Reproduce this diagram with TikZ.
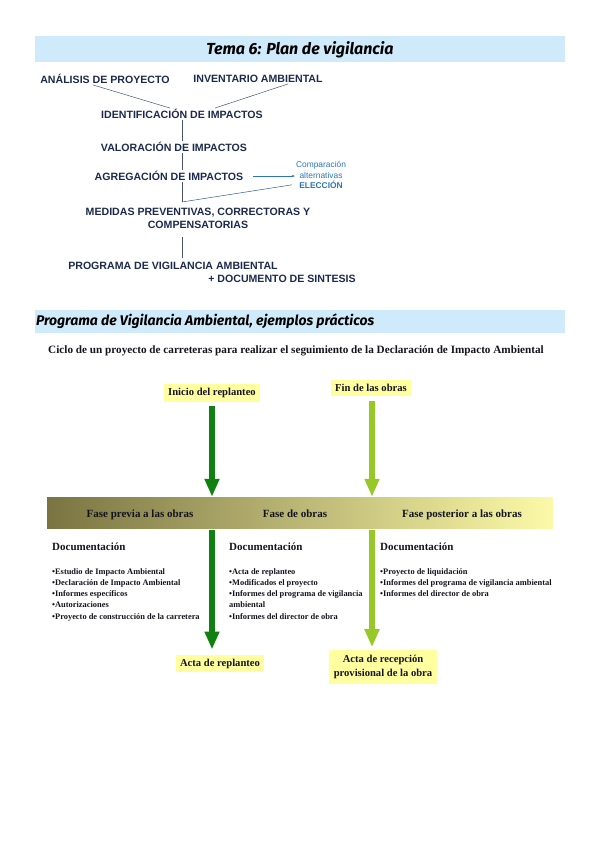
\documentclass[tikz,border=0pt]{standalone}
\usepackage{fontspec}
\setmainfont{Liberation Serif}
\newfontfamily\arialf{Liberation Sans}
\newfontfamily\titlef{Fira Sans}
\usetikzlibrary{arrows.meta,positioning}
\definecolor{hd}{RGB}{206,234,251}
\definecolor{nvy}{RGB}{28,42,78}
\definecolor{bl}{RGB}{46,117,182}
\definecolor{yl}{RGB}{255,255,160}
\definecolor{gd}{RGB}{16,128,16}
\definecolor{gl}{RGB}{150,200,40}
\definecolor{ol}{RGB}{122,116,66}
\definecolor{om}{RGB}{204,200,124}
\definecolor{oy}{RGB}{252,250,168}
\definecolor{tx}{RGB}{20,20,30}

\begin{document}
\begin{tikzpicture}[x=1pt,y=-1pt,
    hdr/.style={rectangle,fill=hd,minimum width=530pt,minimum height=26pt,inner sep=0pt},
    ttl/.style={font=\titlef\fontsize{16}{18}\selectfont\bfseries\itshape,text=black},
    topt/.style={font=\arialf\fontsize{10.6}{13}\selectfont\bfseries,text=nvy,inner sep=1pt,align=center},
    smallt/.style={font=\arialf\fontsize{8.4}{10.5}\selectfont,text=bl,align=center,inner sep=1pt},
    flw/.style={line width=0.5pt,draw=nvy!80},
    ybox/.style={rectangle,fill=yl,font=\fontsize{10.6}{13.5}\selectfont\bfseries,text=tx,inner sep=4pt,align=center},
    fase/.style={font=\fontsize{11}{13}\selectfont\bfseries,text=tx,anchor=base},
    doch/.style={font=\fontsize{11}{13}\selectfont\bfseries,text=tx,anchor=west,inner sep=0pt},
    items/.style={font=\fontsize{8.4}{11.3}\selectfont\bfseries,text=tx,anchor=north west,align=left,inner sep=0pt},
    bigd/.style={-{Triangle[width=14pt,length=18pt]},line width=5.5pt,draw=gd,fill=gd},
    bigl/.style={-{Triangle[width=14pt,length=18pt]},line width=5.5pt,draw=gl,fill=gl},
]
\useasboundingbox (0,0) rectangle (600,848);

% Tema 6 header
\node[hdr] (h1) at (300,49.5) {};
\node[ttl] at (h1) {Tema 6: Plan de vigilancia};

% Flow of the plan
\node[topt] (ana) at (105,79) {ANÁLISIS DE PROYECTO};
\node[topt] (inv) at (258,79) {INVENTARIO AMBIENTAL};
\node[topt] (ident) at (182,114) {IDENTIFICACIÓN DE IMPACTOS};
\node[topt] (valor) at (174,147) {VALORACIÓN DE IMPACTOS};
\node[topt] (agreg) at (169,176) {AGREGACIÓN DE IMPACTOS};
\node[smallt] (comp) at (321,175) {Comparación\\alternativas\\\textbf{ELECCIÓN}};
\node[topt] (med) at (198,218.5) {MEDIDAS PREVENTIVAS, CORRECTORAS Y\\COMPENSATORIAS};
\node[topt] (prog) at (173,266) {PROGRAMA DE VIGILANCIA AMBIENTAL};
\node[topt] (sint) at (282,279) {+ DOCUMENTO DE SINTESIS};
\coordinate (j) at (182,202);

\draw[flw] ([xshift=-12pt]ana.south) -- ([xshift=-12pt]ident.north);
\draw[flw] ([xshift=30pt]inv.south) -- ([xshift=33pt]ident.north);
\draw[flw] (ident.south) -- (ident.south |- valor.north);
\draw[flw] (ident.south |- valor.south) -- (ident.south |- agreg.north);
\draw[flw,-{Stealth[length=3pt,width=2.5pt]},draw=bl] ([xshift=8pt]agreg.east) -- (agreg.east -| comp.west);
\draw[flw] (ident.south |- agreg.south) -- (j);
\draw[flw,draw=bl!70!nvy] ([xshift=-3pt,yshift=5pt]comp.south west) -- (j);
\draw[flw] ([yshift=-7pt]ident.south |- med.south) -- ([yshift=3pt]ident.south |- prog.north);

% Programa de vigilancia header
\node[hdr,minimum height=23pt] (h2) at (300,321) {};
\node[ttl,font=\titlef\fontsize{14}{16}\selectfont\bfseries\itshape,anchor=west,inner sep=1pt] at (h2.west) {Programa de Vigilancia Ambiental, ejemplos prácticos};
\node[font=\fontsize{11.2}{13}\selectfont\bfseries,text=tx] (ciclo) at (296,351) {Ciclo de un proyecto de carreteras para realizar el seguimiento de la Declaración de Impacto Ambiental};

% Hitos
\node[ybox] (ini) at (212,393) {Inicio del replanteo};
\node[ybox] (fin) at (371,388) {Fin de las obras};

% Fases
\node[rectangle,minimum width=506pt,minimum height=31pt,inner sep=0pt,left color=ol,middle color=om,right color=oy] (band) at (300,512.5) {};
\node[fase] (f1) at (140,517) {Fase previa a las obras};
\node[fase] (f2) at (295,517) {Fase de obras};
\node[fase] (f3) at (462,517) {Fase posterior a las obras};

% Actas
\node[ybox] (acta1) at (220,663.5) {Acta de replanteo};
\node[ybox,inner sep=5pt] (acta2) at (383,667) {Acta de recepción\\provisional de la obra};

% Arrows
\draw[bigd] ([yshift=-4pt]ini.south) -- (ini.south |- band.north);
\draw[bigl] ([xshift=1pt,yshift=-5pt]fin.south) -- ([xshift=1pt]fin.south |- band.north);
\draw[bigd] ([yshift=-2pt]band.south -| ini) -- ([yshift=5pt]ini.south |- acta1.north);
\draw[bigl] ([xshift=1pt,yshift=-2pt]band.south -| fin) -- ([xshift=1pt,yshift=3pt]fin.south |- acta2.north);

% Documentacion
\node[doch] (d1) at (52,547) {Documentación};
\node[doch] (d2) at (229,547) {Documentación};
\node[doch] (d3) at (380,547) {Documentación};
\node[items] (l1) at (52,568) {\textbullet Estudio de Impacto Ambiental\\\textbullet Declaración de Impacto Ambiental\\\textbullet Informes específicos\\\textbullet Autorizaciones\\\textbullet Proyecto de construcción de la carretera};
\node[items] (l2) at (229,568) {\textbullet Acta de replanteo\\\textbullet Modificados el proyecto\\\textbullet Informes del programa de vigilancia\\ambiental\\\textbullet Informes del director de obra};
\node[items] (l3) at (380,568) {\textbullet Proyecto de liquidación\\\textbullet Informes del programa de vigilancia ambiental\\\textbullet Informes del director de obra};
\end{tikzpicture}
\end{document}
